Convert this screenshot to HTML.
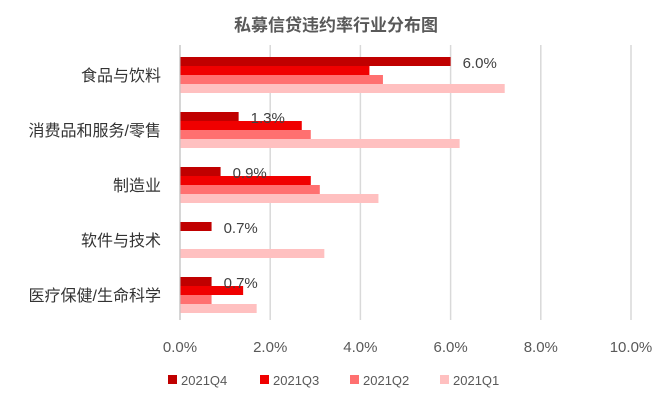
<!DOCTYPE html>
<html><head><meta charset="utf-8"><style>
body{margin:0;background:#fff;font-family:"Liberation Sans","Noto Sans CJK SC",sans-serif}
</style></head><body>
<svg id="c" width="672" height="411" xmlns="http://www.w3.org/2000/svg" font-family="Liberation Sans, Noto Sans CJK SC, sans-serif"></svg>
<script>
const categories=["食品与饮料","消费品和服务/零售","制造业","软件与技术","医疗保健/生命科学"];
const seriesNames=["2021Q4","2021Q3","2021Q2","2021Q1"];
const q4=[6.0,1.3,0.9,0.7,0.7];
const q3=[4.2,2.7,2.9,0,1.4];
const q2=[4.5,2.9,3.1,0,0.7];
const q1=[7.2,6.2,4.4,3.2,1.7];
const ticks=[0,2,4,6,8,10];
const tickLabels=["0.0%","2.0%","4.0%","6.0%","8.0%","10.0%"];
const colors=["#C00000","#F00000","#FF7070","#FFC0C0"];
const svg=document.getElementById('c');const NS="http://www.w3.org/2000/svg";
function mk(t,a,p){const e=document.createElementNS(NS,t);for(const k in a)e.setAttribute(k,a[k]);(p||svg).appendChild(e);return e;}
const x0=180,pxPer=45.1,top0=57,grp=55,bh=9;
const X=v=>x0+v*pxPer;
const title=mk('text',{x:336,y:31,'text-anchor':'middle','font-size':17,'font-weight':'bold',fill:'#595959'});title.textContent="私募信贷违约率行业分布图";

ticks.forEach((t,i)=>{const g=mk('line',{x1:X(t),x2:X(t),y1:45,y2:320,stroke:'#D9D9D9','stroke-width':1.5});

const l=mk('text',{x:X(t),y:352,'text-anchor':'middle','font-size':15,fill:'#595959'});l.textContent=tickLabels[i];
});
const all=[q4,q3,q2,q1];
categories.forEach((c,ci)=>{const gt=top0+ci*grp;
all.forEach((s,si)=>{if(s[ci]<=0)return;const r=mk('rect',{x:x0,y:gt+si*bh,width:X(s[ci])-x0,height:bh,fill:colors[si]});
});
const v=mk('text',{x:X(q4[ci])+12,y:gt+11,'font-size':15,fill:'#404040'});v.textContent=q4[ci].toFixed(1)+"%";

const cl=mk('text',{x:161,y:gt+24,'text-anchor':'end','font-size':16,fill:'#333'});cl.textContent=c;
});
const ax=mk('line',{x1:x0,x2:x0,y1:45,y2:320,stroke:'#BFBFBF','stroke-width':1});

const lx=[168,260,350,440];
seriesNames.forEach((n,i)=>{const r=mk('rect',{x:lx[i],y:375,width:9,height:9,fill:colors[i]});

const t=mk('text',{x:lx[i]+13,y:385,'font-size':13,fill:'#595959'});t.textContent=n;
});
</script>
</body></html>
